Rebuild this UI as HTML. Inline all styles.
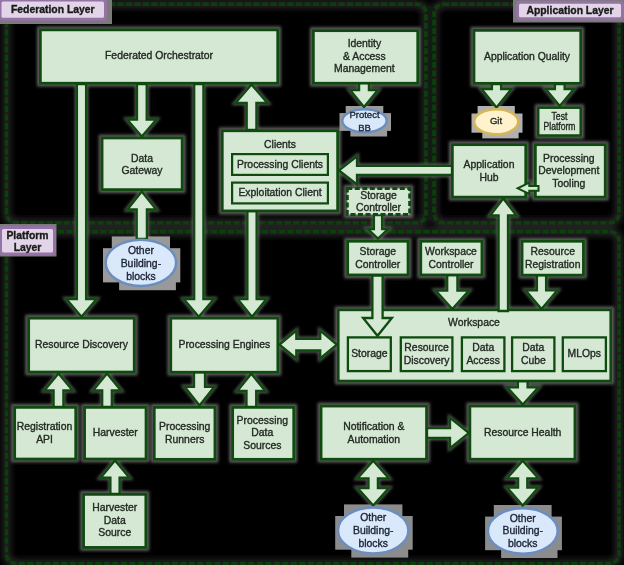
<!DOCTYPE html>
<html><head><meta charset="utf-8"><style>
html,body{margin:0;padding:0;background:#000;}
body{width:624px;height:565px;overflow:hidden;}
svg{display:block;font-family:"Liberation Sans",sans-serif;filter:blur(0.3px);}
</style></head><body>
<svg width="624" height="565" viewBox="0 0 624 565">
<defs><filter id="bl" x="-20%" y="-20%" width="140%" height="140%"><feGaussianBlur stdDeviation="1.6"/></filter><filter id="bl2" x="-5%" y="-5%" width="110%" height="110%"><feGaussianBlur stdDeviation="3"/></filter></defs>
<rect width="624" height="565" fill="#000"/>
<g filter="url(#bl2)"><rect x="6.5" y="4.2" width="419.5" height="218.60000000000002" rx="9" fill="none" stroke="#262626" stroke-width="8"/><rect x="434" y="4.2" width="185" height="218.60000000000002" rx="9" fill="none" stroke="#262626" stroke-width="8"/><rect x="6.5" y="231.8" width="612.5" height="331.7" rx="9" fill="none" stroke="#262626" stroke-width="8"/></g><rect x="425" y="6" width="10" height="214" fill="#141a14"/><rect x="6.5" y="4.2" width="419.5" height="218.60000000000002" rx="9" fill="none" stroke="#0b400b" stroke-width="3.6" stroke-dasharray="6 2.5"/>
<rect x="434" y="4.2" width="185" height="218.60000000000002" rx="9" fill="none" stroke="#0b400b" stroke-width="3.6" stroke-dasharray="6 2.5"/>
<rect x="6.5" y="231.8" width="612.5" height="331.7" rx="9" fill="none" stroke="#0b400b" stroke-width="3.6" stroke-dasharray="6 2.5"/><g fill="#606060" stroke="#606060" stroke-width="4" filter="url(#bl)"><polygon points="76.9,84.0 76.9,299.0 66.4,299.0 81.5,316.8 96.6,299.0 86.1,299.0 86.1,84.0"/><polygon points="137.0,84.0 137.0,119.5 127.2,119.5 141.8,136.5 156.4,119.5 146.7,119.5 146.7,84.0"/><polygon points="194.2,84.0 194.2,299.0 183.7,299.0 198.8,316.8 213.9,299.0 203.4,299.0 203.4,84.0"/><polygon points="246.7,130.0 246.7,103.0 235.6,103.0 251.5,84.5 267.4,103.0 256.4,103.0 256.4,130.0"/><polygon points="136.7,239.0 136.7,209.5 127.4,209.5 141.8,191.5 156.2,209.5 146.9,209.5 146.9,239.0"/><polygon points="247.4,211.0 247.4,299.0 237.6,299.0 252.0,316.8 266.4,299.0 256.6,299.0 256.6,211.0"/><polygon points="359.1,82.0 359.1,90.0 350.1,90.0 364.0,107.0 377.9,90.0 368.9,90.0 368.9,82.0"/><polygon points="491.9,84.0 491.9,89.0 481.6,89.0 496.5,107.5 511.4,89.0 501.1,89.0 501.1,84.0"/><polygon points="554.9,84.0 554.9,89.0 545.7,89.0 559.8,106.0 573.9,89.0 564.6,89.0 564.6,84.0"/><polygon points="452.0,165.8 357.0,165.8 357.0,156.3 339.0,170.4 357.0,184.5 357.0,175.0 452.0,175.0"/><polygon points="373.9,215.0 373.9,229.0 367.9,229.0 378.0,238.5 388.1,229.0 382.1,229.0 382.1,215.0"/><polygon points="447.2,275.0 447.2,290.5 435.7,290.5 452.3,309.0 468.9,290.5 457.4,290.5 457.4,275.0"/><polygon points="536.9,275.0 536.9,290.3 525.6,290.3 541.5,309.0 557.4,290.3 546.1,290.3 546.1,275.0"/><polygon points="517.9,381.0 517.9,387.3 507.2,387.3 522.8,404.5 538.4,387.3 527.6,387.3 527.6,381.0"/><polygon points="53.6,407.0 53.6,390.5 44.4,390.5 58.5,373.5 72.6,390.5 63.4,390.5 63.4,407.0"/><polygon points="102.2,407.0 102.2,390.5 93.1,390.5 107.0,373.5 120.9,390.5 111.8,390.5 111.8,407.0"/><polygon points="110.4,494.0 110.4,477.7 100.6,477.7 115.0,460.5 129.4,477.7 119.6,477.7 119.6,494.0"/><polygon points="194.0,372.0 194.0,386.8 184.7,386.8 199.5,405.5 214.3,386.8 205.0,386.8 205.0,372.0"/><polygon points="246.5,407.0 246.5,391.0 237.3,391.0 251.3,373.7 265.3,391.0 256.2,391.0 256.2,407.0"/><polygon points="427.0,428.1 450.0,428.1 450.0,417.9 469.0,433.0 450.0,448.1 450.0,437.9 427.0,437.9"/><polygon points="279.5,344.6 296.3,330.7 296.3,338.8 320.2,338.8 320.2,330.7 336.8,344.6 320.2,358.5 320.2,350.5 296.3,350.5 296.3,358.5"/><polygon points="373.2,460.8 388.8,478.3 377.9,478.3 377.9,488.0 388.8,488.0 373.2,505.5 357.6,488.0 368.5,488.0 368.5,478.3 357.6,478.3"/><polygon points="522.7,460.8 538.3,478.3 527.3,478.3 527.3,487.5 538.3,487.5 522.7,505.5 507.1,487.5 518.1,487.5 518.1,478.3 507.1,478.3"/><rect x="39.0" y="28.5" width="240.0" height="56.0"/><rect x="100.8" y="136.7" width="82.7" height="54.3"/><rect x="221.0" y="129.5" width="118.0" height="82.8"/><rect x="231.0" y="153.0" width="98.0" height="23.0"/><rect x="231.0" y="181.5" width="98.0" height="23.0"/><rect x="312.0" y="29.3" width="107.0" height="55.2"/><rect x="472.6" y="29.0" width="109.4" height="55.6"/><rect x="537.0" y="106.4" width="45.0" height="30.3"/><rect x="451.0" y="143.3" width="76.0" height="55.1"/><rect x="534.0" y="143.3" width="72.5" height="55.1"/><rect x="345.8" y="187.0" width="65.4" height="28.9"/><rect x="346.3" y="240.0" width="63.0" height="36.3"/><rect x="419.4" y="240.0" width="63.8" height="36.3"/><rect x="520.8" y="240.0" width="64.0" height="36.5"/><rect x="337.0" y="308.6" width="275.0" height="73.7"/><polygon points="372.4,275.5 372.4,318.0 363.1,318.0 377.5,335.8 391.9,318.0 382.6,318.0 382.6,275.5"/><polygon points="498.6,311.0 498.6,215.5 490.2,215.5 503.3,198.5 516.4,215.5 508.0,215.5 508.0,311.0"/><rect x="346.8" y="336.3" width="45.2" height="36.0"/><rect x="399.7" y="336.3" width="53.9" height="36.0"/><rect x="460.8" y="336.3" width="44.8" height="36.0"/><rect x="511.0" y="336.3" width="44.6" height="36.0"/><rect x="561.6" y="336.3" width="45.4" height="36.0"/><rect x="27.3" y="316.8" width="108.2" height="56.5"/><rect x="169.5" y="316.8" width="109.7" height="56.7"/><rect x="13.3" y="406.0" width="63.7" height="54.3"/><rect x="83.3" y="406.0" width="64.1" height="54.3"/><rect x="153.0" y="406.0" width="63.3" height="54.6"/><rect x="231.3" y="406.0" width="63.7" height="54.6"/><rect x="82.3" y="493.0" width="64.9" height="55.7"/><rect x="319.7" y="404.7" width="108.1" height="55.8"/><rect x="468.5" y="404.7" width="107.7" height="55.8"/><polygon points="538.5,185.9 529.3,185.9 529.3,182.7 517.7,188.3 529.3,193.9 529.3,190.7 538.5,190.7"/></g>
<rect x="345.7" y="106.0" width="37.6" height="9.7" fill="#9a9a9a"/><rect x="339.5" y="113.1" width="51.5" height="17.8" fill="#9a9a9a"/><rect x="350.4" y="125.8" width="36.7" height="10.7" fill="#9a9a9a"/><rect x="477.6" y="106.0" width="37.2" height="10.2" fill="#b0b0b0"/><rect x="471.5" y="113.5" width="51.0" height="19.2" fill="#b0b0b0"/><rect x="482.3" y="127.2" width="36.3" height="11.2" fill="#b0b0b0"/><rect x="111.8" y="236.4" width="58.2" height="16.6" fill="#999999"/><rect x="103.0" y="248.2" width="77.3" height="34.2" fill="#999999"/><rect x="119.1" y="272.6" width="56.8" height="17.6" fill="#999999"/><rect x="344.0" y="504.4" width="58.4" height="16.5" fill="#8c8c8c"/><rect x="335.2" y="516.0" width="77.5" height="33.7" fill="#8c8c8c"/><rect x="351.3" y="540.1" width="56.9" height="17.5" fill="#8c8c8c"/><rect x="493.8" y="505.0" width="57.8" height="16.4" fill="#8c8c8c"/><rect x="485.1" y="516.6" width="76.8" height="33.6" fill="#8c8c8c"/><rect x="501.1" y="540.6" width="56.4" height="17.4" fill="#8c8c8c"/><polygon points="76.9,84.0 76.9,299.0 66.4,299.0 81.5,316.8 96.6,299.0 86.1,299.0 86.1,84.0" fill="#d5e8d4" stroke="#0f4a0f" stroke-width="2.3" stroke-linejoin="miter"/>
<polygon points="137.0,84.0 137.0,119.5 127.2,119.5 141.8,136.5 156.4,119.5 146.7,119.5 146.7,84.0" fill="#d5e8d4" stroke="#0f4a0f" stroke-width="2.3" stroke-linejoin="miter"/>
<polygon points="194.2,84.0 194.2,299.0 183.7,299.0 198.8,316.8 213.9,299.0 203.4,299.0 203.4,84.0" fill="#d5e8d4" stroke="#0f4a0f" stroke-width="2.3" stroke-linejoin="miter"/>
<polygon points="246.7,130.0 246.7,103.0 235.6,103.0 251.5,84.5 267.4,103.0 256.4,103.0 256.4,130.0" fill="#d5e8d4" stroke="#0f4a0f" stroke-width="2.3" stroke-linejoin="miter"/>
<polygon points="136.7,239.0 136.7,209.5 127.4,209.5 141.8,191.5 156.2,209.5 146.9,209.5 146.9,239.0" fill="#d5e8d4" stroke="#0f4a0f" stroke-width="2.3" stroke-linejoin="miter"/>
<polygon points="247.4,211.0 247.4,299.0 237.6,299.0 252.0,316.8 266.4,299.0 256.6,299.0 256.6,211.0" fill="#d5e8d4" stroke="#0f4a0f" stroke-width="2.3" stroke-linejoin="miter"/>
<polygon points="359.1,82.0 359.1,90.0 350.1,90.0 364.0,107.0 377.9,90.0 368.9,90.0 368.9,82.0" fill="#d5e8d4" stroke="#0f4a0f" stroke-width="2.3" stroke-linejoin="miter"/>
<polygon points="491.9,84.0 491.9,89.0 481.6,89.0 496.5,107.5 511.4,89.0 501.1,89.0 501.1,84.0" fill="#d5e8d4" stroke="#0f4a0f" stroke-width="2.3" stroke-linejoin="miter"/>
<polygon points="554.9,84.0 554.9,89.0 545.7,89.0 559.8,106.0 573.9,89.0 564.6,89.0 564.6,84.0" fill="#d5e8d4" stroke="#0f4a0f" stroke-width="2.3" stroke-linejoin="miter"/>
<polygon points="452.0,165.8 357.0,165.8 357.0,156.3 339.0,170.4 357.0,184.5 357.0,175.0 452.0,175.0" fill="#d5e8d4" stroke="#0f4a0f" stroke-width="2.3" stroke-linejoin="miter"/>
<polygon points="373.9,215.0 373.9,229.0 367.9,229.0 378.0,238.5 388.1,229.0 382.1,229.0 382.1,215.0" fill="#d5e8d4" stroke="#0f4a0f" stroke-width="2.3" stroke-linejoin="miter"/>
<polygon points="447.2,275.0 447.2,290.5 435.7,290.5 452.3,309.0 468.9,290.5 457.4,290.5 457.4,275.0" fill="#d5e8d4" stroke="#0f4a0f" stroke-width="2.3" stroke-linejoin="miter"/>
<polygon points="536.9,275.0 536.9,290.3 525.6,290.3 541.5,309.0 557.4,290.3 546.1,290.3 546.1,275.0" fill="#d5e8d4" stroke="#0f4a0f" stroke-width="2.3" stroke-linejoin="miter"/>
<polygon points="517.9,381.0 517.9,387.3 507.2,387.3 522.8,404.5 538.4,387.3 527.6,387.3 527.6,381.0" fill="#d5e8d4" stroke="#0f4a0f" stroke-width="2.3" stroke-linejoin="miter"/>
<polygon points="53.6,407.0 53.6,390.5 44.4,390.5 58.5,373.5 72.6,390.5 63.4,390.5 63.4,407.0" fill="#d5e8d4" stroke="#0f4a0f" stroke-width="2.3" stroke-linejoin="miter"/>
<polygon points="102.2,407.0 102.2,390.5 93.1,390.5 107.0,373.5 120.9,390.5 111.8,390.5 111.8,407.0" fill="#d5e8d4" stroke="#0f4a0f" stroke-width="2.3" stroke-linejoin="miter"/>
<polygon points="110.4,494.0 110.4,477.7 100.6,477.7 115.0,460.5 129.4,477.7 119.6,477.7 119.6,494.0" fill="#d5e8d4" stroke="#0f4a0f" stroke-width="2.3" stroke-linejoin="miter"/>
<polygon points="194.0,372.0 194.0,386.8 184.7,386.8 199.5,405.5 214.3,386.8 205.0,386.8 205.0,372.0" fill="#d5e8d4" stroke="#0f4a0f" stroke-width="2.3" stroke-linejoin="miter"/>
<polygon points="246.5,407.0 246.5,391.0 237.3,391.0 251.3,373.7 265.3,391.0 256.2,391.0 256.2,407.0" fill="#d5e8d4" stroke="#0f4a0f" stroke-width="2.3" stroke-linejoin="miter"/>
<polygon points="427.0,428.1 450.0,428.1 450.0,417.9 469.0,433.0 450.0,448.1 450.0,437.9 427.0,437.9" fill="#d5e8d4" stroke="#0f4a0f" stroke-width="2.3" stroke-linejoin="miter"/>
<polygon points="279.5,344.6 296.3,330.7 296.3,338.8 320.2,338.8 320.2,330.7 336.8,344.6 320.2,358.5 320.2,350.5 296.3,350.5 296.3,358.5" fill="#d5e8d4" stroke="#0f4a0f" stroke-width="2.3" stroke-linejoin="miter"/>
<polygon points="373.2,460.8 388.8,478.3 377.9,478.3 377.9,488.0 388.8,488.0 373.2,505.5 357.6,488.0 368.5,488.0 368.5,478.3 357.6,478.3" fill="#d5e8d4" stroke="#0f4a0f" stroke-width="2.3" stroke-linejoin="miter"/>
<polygon points="522.7,460.8 538.3,478.3 527.3,478.3 527.3,487.5 538.3,487.5 522.7,505.5 507.1,487.5 518.1,487.5 518.1,478.3 507.1,478.3" fill="#d5e8d4" stroke="#0f4a0f" stroke-width="2.3" stroke-linejoin="miter"/>
<rect x="40.4" y="29.9" width="237.3" height="53.3" fill="#d5e8d4" stroke="#0f4a0f" stroke-width="2.7"/>
<text x="159.0" y="59.2" font-size="10.4" font-weight="normal" fill="#222a22" stroke="#222a22" stroke-width="0.35" text-anchor="middle">Federated Orchestrator</text>
<rect x="102.1" y="138.0" width="80.0" height="51.6" fill="#d5e8d4" stroke="#0f4a0f" stroke-width="2.7"/>
<text x="142.0" y="161.5" font-size="10.4" font-weight="normal" fill="#222a22" stroke="#222a22" stroke-width="0.35" text-anchor="middle">Data</text>
<text x="142.0" y="174.2" font-size="10.4" font-weight="normal" fill="#222a22" stroke="#222a22" stroke-width="0.35" text-anchor="middle">Gateway</text>
<rect x="222.3" y="130.8" width="115.3" height="80.1" fill="#d5e8d4" stroke="#0f4a0f" stroke-width="2.7"/>
<text x="280.0" y="147.5" font-size="10.4" font-weight="normal" fill="#222a22" stroke="#222a22" stroke-width="0.35" text-anchor="middle">Clients</text>
<rect x="232.1" y="154.1" width="95.8" height="20.8" fill="#d5e8d4" stroke="#0f4a0f" stroke-width="2.2"/>
<text x="280.0" y="167.7" font-size="10.4" font-weight="normal" fill="#222a22" stroke="#222a22" stroke-width="0.35" text-anchor="middle">Processing Clients</text>
<rect x="232.1" y="182.6" width="95.8" height="20.8" fill="#d5e8d4" stroke="#0f4a0f" stroke-width="2.2"/>
<text x="280.0" y="196.2" font-size="10.4" font-weight="normal" fill="#222a22" stroke="#222a22" stroke-width="0.35" text-anchor="middle">Exploitation Client</text>
<rect x="313.4" y="30.7" width="104.3" height="52.5" fill="#d5e8d4" stroke="#0f4a0f" stroke-width="2.7"/>
<text x="364.4" y="46.9" font-size="10.4" font-weight="normal" fill="#222a22" stroke="#222a22" stroke-width="0.35" text-anchor="middle">Identity</text>
<text x="364.4" y="59.6" font-size="10.4" font-weight="normal" fill="#222a22" stroke="#222a22" stroke-width="0.35" text-anchor="middle">&amp; Access</text>
<text x="364.4" y="72.3" font-size="10.4" font-weight="normal" fill="#222a22" stroke="#222a22" stroke-width="0.35" text-anchor="middle">Management</text>
<ellipse cx="364.5" cy="120.8" rx="22.2" ry="11.5" fill="#dae8fc" stroke="#6c8ebf" stroke-width="2.5"/>
<text x="364.5" y="118.2" font-size="9.5" font-weight="normal" fill="#1a2333" stroke="#1a2333" stroke-width="0.35" text-anchor="middle">Protect</text>
<text x="364.5" y="130.6" font-size="9.5" font-weight="normal" fill="#1a2333" stroke="#1a2333" stroke-width="0.35" text-anchor="middle">BB</text>
<rect x="474.0" y="30.4" width="106.7" height="52.9" fill="#d5e8d4" stroke="#0f4a0f" stroke-width="2.7"/>
<text x="527.0" y="59.7" font-size="10.4" font-weight="normal" fill="#222a22" stroke="#222a22" stroke-width="0.35" text-anchor="middle">Application Quality</text>
<ellipse cx="496.2" cy="121.8" rx="22.0" ry="12.5" fill="#fff2cc" stroke="#d6b656" stroke-width="2.5"/>
<text x="496.0" y="124.4" font-size="9.5" font-weight="normal" fill="#222a22" stroke="#222a22" stroke-width="0.35" text-anchor="middle">Git</text>
<rect x="538.2" y="107.7" width="42.5" height="27.8" fill="#d5e8d4" stroke="#0f4a0f" stroke-width="2.5"/>
<text x="559.5" y="120.0" font-size="10" font-weight="normal" fill="#222a22" stroke="#222a22" stroke-width="0.35" text-anchor="middle" textLength="16" lengthAdjust="spacingAndGlyphs">Test</text>
<text x="559.5" y="130.4" font-size="10" font-weight="normal" fill="#222a22" stroke="#222a22" stroke-width="0.35" text-anchor="middle" textLength="32" lengthAdjust="spacingAndGlyphs">Platform</text>
<rect x="452.4" y="144.7" width="73.3" height="52.4" fill="#d5e8d4" stroke="#0f4a0f" stroke-width="2.7"/>
<text x="489.0" y="167.9" font-size="10.4" font-weight="normal" fill="#222a22" stroke="#222a22" stroke-width="0.35" text-anchor="middle">Application</text>
<text x="489.0" y="180.6" font-size="10.4" font-weight="normal" fill="#222a22" stroke="#222a22" stroke-width="0.35" text-anchor="middle">Hub</text>
<rect x="535.4" y="144.7" width="69.8" height="52.4" fill="#d5e8d4" stroke="#0f4a0f" stroke-width="2.7"/>
<text x="568.8" y="161.5" font-size="10.4" font-weight="normal" fill="#222a22" stroke="#222a22" stroke-width="0.35" text-anchor="middle">Processing</text>
<text x="568.8" y="174.2" font-size="10.4" font-weight="normal" fill="#222a22" stroke="#222a22" stroke-width="0.35" text-anchor="middle">Development</text>
<text x="568.8" y="186.9" font-size="10.4" font-weight="normal" fill="#222a22" stroke="#222a22" stroke-width="0.35" text-anchor="middle">Tooling</text>
<rect x="347.3" y="188.5" width="62.4" height="25.9" fill="#d5e8d4" stroke="#0f4a0f" stroke-width="3" stroke-dasharray="5 2.5"/>
<text x="378.5" y="198.6" font-size="10.4" font-weight="normal" fill="#222a22" stroke="#222a22" stroke-width="0.35" text-anchor="middle">Storage</text>
<text x="378.5" y="211.3" font-size="10.4" font-weight="normal" fill="#222a22" stroke="#222a22" stroke-width="0.35" text-anchor="middle">Controller</text>
<rect x="347.7" y="241.3" width="60.3" height="33.6" fill="#d5e8d4" stroke="#0f4a0f" stroke-width="2.7"/>
<text x="377.8" y="254.9" font-size="10.4" font-weight="normal" fill="#222a22" stroke="#222a22" stroke-width="0.35" text-anchor="middle">Storage</text>
<text x="377.8" y="267.6" font-size="10.4" font-weight="normal" fill="#222a22" stroke="#222a22" stroke-width="0.35" text-anchor="middle">Controller</text>
<rect x="420.8" y="241.3" width="61.1" height="33.6" fill="#d5e8d4" stroke="#0f4a0f" stroke-width="2.7"/>
<text x="451.0" y="254.9" font-size="10.4" font-weight="normal" fill="#222a22" stroke="#222a22" stroke-width="0.35" text-anchor="middle">Workspace</text>
<text x="451.0" y="267.6" font-size="10.4" font-weight="normal" fill="#222a22" stroke="#222a22" stroke-width="0.35" text-anchor="middle">Controller</text>
<rect x="522.1" y="241.3" width="61.3" height="33.8" fill="#d5e8d4" stroke="#0f4a0f" stroke-width="2.7"/>
<text x="552.7" y="254.9" font-size="10.4" font-weight="normal" fill="#222a22" stroke="#222a22" stroke-width="0.35" text-anchor="middle">Resource</text>
<text x="552.7" y="267.6" font-size="10.4" font-weight="normal" fill="#222a22" stroke="#222a22" stroke-width="0.35" text-anchor="middle">Registration</text>
<rect x="338.3" y="309.9" width="272.4" height="71.1" fill="#d5e8d4" stroke="#0f4a0f" stroke-width="2.6"/>
<text x="474.0" y="325.7" font-size="10.4" font-weight="normal" fill="#222a22" stroke="#222a22" stroke-width="0.35" text-anchor="middle">Workspace</text>
<polygon points="372.4,275.5 372.4,318.0 363.1,318.0 377.5,335.8 391.9,318.0 382.6,318.0 382.6,275.5" fill="#d5e8d4" stroke="#0f4a0f" stroke-width="2.3" stroke-linejoin="miter"/>
<polygon points="498.6,311.0 498.6,215.5 490.2,215.5 503.3,198.5 516.4,215.5 508.0,215.5 508.0,311.0" fill="#d5e8d4" stroke="#0f4a0f" stroke-width="2.3" stroke-linejoin="miter"/>
<rect x="347.9" y="337.4" width="42.9" height="33.7" fill="#d5e8d4" stroke="#0f4a0f" stroke-width="2.3"/>
<text x="369.4" y="357.2" font-size="10.4" font-weight="normal" fill="#222a22" stroke="#222a22" stroke-width="0.35" text-anchor="middle">Storage</text>
<rect x="400.8" y="337.4" width="51.6" height="33.7" fill="#d5e8d4" stroke="#0f4a0f" stroke-width="2.3"/>
<text x="426.6" y="350.9" font-size="10.4" font-weight="normal" fill="#222a22" stroke="#222a22" stroke-width="0.35" text-anchor="middle">Resource</text>
<text x="426.6" y="363.6" font-size="10.4" font-weight="normal" fill="#222a22" stroke="#222a22" stroke-width="0.35" text-anchor="middle">Discovery</text>
<rect x="461.9" y="337.4" width="42.5" height="33.7" fill="#d5e8d4" stroke="#0f4a0f" stroke-width="2.3"/>
<text x="483.2" y="350.9" font-size="10.4" font-weight="normal" fill="#222a22" stroke="#222a22" stroke-width="0.35" text-anchor="middle">Data</text>
<text x="483.2" y="363.6" font-size="10.4" font-weight="normal" fill="#222a22" stroke="#222a22" stroke-width="0.35" text-anchor="middle">Access</text>
<rect x="512.1" y="337.4" width="42.3" height="33.7" fill="#d5e8d4" stroke="#0f4a0f" stroke-width="2.3"/>
<text x="533.3" y="350.9" font-size="10.4" font-weight="normal" fill="#222a22" stroke="#222a22" stroke-width="0.35" text-anchor="middle">Data</text>
<text x="533.3" y="363.6" font-size="10.4" font-weight="normal" fill="#222a22" stroke="#222a22" stroke-width="0.35" text-anchor="middle">Cube</text>
<rect x="562.8" y="337.4" width="43.1" height="33.7" fill="#d5e8d4" stroke="#0f4a0f" stroke-width="2.3"/>
<text x="584.3" y="357.2" font-size="10.4" font-weight="normal" fill="#222a22" stroke="#222a22" stroke-width="0.35" text-anchor="middle">MLOps</text>
<rect x="28.7" y="318.2" width="105.5" height="53.8" fill="#d5e8d4" stroke="#0f4a0f" stroke-width="2.7"/>
<text x="81.4" y="348.2" font-size="10.4" font-weight="normal" fill="#222a22" stroke="#222a22" stroke-width="0.35" text-anchor="middle">Resource Discovery</text>
<rect x="170.8" y="318.2" width="107.0" height="54.0" fill="#d5e8d4" stroke="#0f4a0f" stroke-width="2.7"/>
<text x="224.4" y="348.2" font-size="10.4" font-weight="normal" fill="#222a22" stroke="#222a22" stroke-width="0.35" text-anchor="middle">Processing Engines</text>
<rect x="14.7" y="407.4" width="61.0" height="51.6" fill="#d5e8d4" stroke="#0f4a0f" stroke-width="2.7"/>
<text x="44.5" y="429.9" font-size="10.4" font-weight="normal" fill="#222a22" stroke="#222a22" stroke-width="0.35" text-anchor="middle">Registration</text>
<text x="44.5" y="442.6" font-size="10.4" font-weight="normal" fill="#222a22" stroke="#222a22" stroke-width="0.35" text-anchor="middle">API</text>
<rect x="84.6" y="407.4" width="61.4" height="51.6" fill="#d5e8d4" stroke="#0f4a0f" stroke-width="2.7"/>
<text x="115.3" y="436.2" font-size="10.4" font-weight="normal" fill="#222a22" stroke="#222a22" stroke-width="0.35" text-anchor="middle">Harvester</text>
<rect x="154.3" y="407.4" width="60.6" height="51.9" fill="#d5e8d4" stroke="#0f4a0f" stroke-width="2.7"/>
<text x="184.7" y="429.9" font-size="10.4" font-weight="normal" fill="#222a22" stroke="#222a22" stroke-width="0.35" text-anchor="middle">Processing</text>
<text x="184.7" y="442.6" font-size="10.4" font-weight="normal" fill="#222a22" stroke="#222a22" stroke-width="0.35" text-anchor="middle">Runners</text>
<rect x="232.7" y="407.4" width="61.0" height="51.9" fill="#d5e8d4" stroke="#0f4a0f" stroke-width="2.7"/>
<text x="262.3" y="423.5" font-size="10.4" font-weight="normal" fill="#222a22" stroke="#222a22" stroke-width="0.35" text-anchor="middle">Processing</text>
<text x="262.3" y="436.2" font-size="10.4" font-weight="normal" fill="#222a22" stroke="#222a22" stroke-width="0.35" text-anchor="middle">Data</text>
<text x="262.3" y="448.9" font-size="10.4" font-weight="normal" fill="#222a22" stroke="#222a22" stroke-width="0.35" text-anchor="middle">Sources</text>
<rect x="83.6" y="494.4" width="62.2" height="53.0" fill="#d5e8d4" stroke="#0f4a0f" stroke-width="2.7"/>
<text x="114.8" y="511.0" font-size="10.4" font-weight="normal" fill="#222a22" stroke="#222a22" stroke-width="0.35" text-anchor="middle">Harvester</text>
<text x="114.8" y="523.7" font-size="10.4" font-weight="normal" fill="#222a22" stroke="#222a22" stroke-width="0.35" text-anchor="middle">Data</text>
<text x="114.8" y="536.4" font-size="10.4" font-weight="normal" fill="#222a22" stroke="#222a22" stroke-width="0.35" text-anchor="middle">Source</text>
<rect x="321.1" y="406.1" width="105.4" height="53.1" fill="#d5e8d4" stroke="#0f4a0f" stroke-width="2.7"/>
<text x="373.8" y="429.9" font-size="10.4" font-weight="normal" fill="#222a22" stroke="#222a22" stroke-width="0.35" text-anchor="middle">Notification &amp;</text>
<text x="373.8" y="442.6" font-size="10.4" font-weight="normal" fill="#222a22" stroke="#222a22" stroke-width="0.35" text-anchor="middle">Automation</text>
<rect x="469.9" y="406.1" width="105.0" height="53.1" fill="#d5e8d4" stroke="#0f4a0f" stroke-width="2.7"/>
<text x="522.7" y="435.9" font-size="10.4" font-weight="normal" fill="#222a22" stroke="#222a22" stroke-width="0.35" text-anchor="middle">Resource Health</text>
<ellipse cx="140.9" cy="262.8" rx="35.2" ry="23.1" fill="#dae8fc" stroke="#6c8ebf" stroke-width="2.5"/>
<text x="140.9" y="254.1" font-size="10.4" font-weight="normal" fill="#1a2333" stroke="#1a2333" stroke-width="0.35" text-anchor="middle">Other</text>
<text x="140.9" y="266.8" font-size="10.4" font-weight="normal" fill="#1a2333" stroke="#1a2333" stroke-width="0.35" text-anchor="middle">Building-</text>
<text x="140.9" y="279.5" font-size="10.4" font-weight="normal" fill="#1a2333" stroke="#1a2333" stroke-width="0.35" text-anchor="middle">blocks</text>
<ellipse cx="373.2" cy="530.5" rx="35.2" ry="22.9" fill="#dae8fc" stroke="#6c8ebf" stroke-width="2.5"/>
<text x="373.2" y="521.3" font-size="10.4" font-weight="normal" fill="#1a2333" stroke="#1a2333" stroke-width="0.35" text-anchor="middle">Other</text>
<text x="373.2" y="534.0" font-size="10.4" font-weight="normal" fill="#1a2333" stroke="#1a2333" stroke-width="0.35" text-anchor="middle">Building-</text>
<text x="373.2" y="546.7" font-size="10.4" font-weight="normal" fill="#1a2333" stroke="#1a2333" stroke-width="0.35" text-anchor="middle">blocks</text>
<ellipse cx="522.8" cy="531.0" rx="34.9" ry="22.8" fill="#dae8fc" stroke="#6c8ebf" stroke-width="2.5"/>
<text x="522.7" y="521.5" font-size="10.4" font-weight="normal" fill="#1a2333" stroke="#1a2333" stroke-width="0.35" text-anchor="middle">Other</text>
<text x="522.7" y="534.2" font-size="10.4" font-weight="normal" fill="#1a2333" stroke="#1a2333" stroke-width="0.35" text-anchor="middle">Building-</text>
<text x="522.7" y="546.9" font-size="10.4" font-weight="normal" fill="#1a2333" stroke="#1a2333" stroke-width="0.35" text-anchor="middle">blocks</text>
<polygon points="538.5,185.9 529.3,185.9 529.3,182.7 517.7,188.3 529.3,193.9 529.3,190.7 538.5,190.7" fill="#d5e8d4" stroke="#0f4a0f" stroke-width="2" stroke-linejoin="miter"/>
<rect x="0" y="0" width="112" height="24" fill="#7a7a7a"/>
<rect x="0.0" y="0.0" width="105.5" height="19.3" rx="3" fill="#e1d5e7" stroke="#9673a6" stroke-width="3"/>
<text x="52.8" y="12.9" font-size="10.4" font-weight="bold" fill="#1a1a1a" stroke="#1a1a1a" stroke-width="0.35" text-anchor="middle">Federation Layer</text>
<rect x="513" y="0" width="111" height="22.5" fill="#7a7a7a"/>
<rect x="517.5" y="2.3" width="105" height="16.5" rx="3" fill="#e1d5e7" stroke="#9673a6" stroke-width="3"/>
<text x="570.0" y="13.8" font-size="10.4" font-weight="bold" fill="#1a1a1a" stroke="#1a1a1a" stroke-width="0.35" text-anchor="middle">Application Layer</text>
<rect x="0" y="224" width="56.5" height="32.5" fill="#7a7a7a"/>
<rect x="0.5" y="227.4" width="54" height="26.5" rx="3" fill="#e1d5e7" stroke="#9673a6" stroke-width="3"/>
<text x="27.5" y="238.5" font-size="10.4" font-weight="bold" fill="#1a1a1a" stroke="#1a1a1a" stroke-width="0.35" text-anchor="middle">Platform</text>
<text x="27.5" y="251.3" font-size="10.4" font-weight="bold" fill="#1a1a1a" stroke="#1a1a1a" stroke-width="0.35" text-anchor="middle">Layer</text>
</svg>
</body></html>
